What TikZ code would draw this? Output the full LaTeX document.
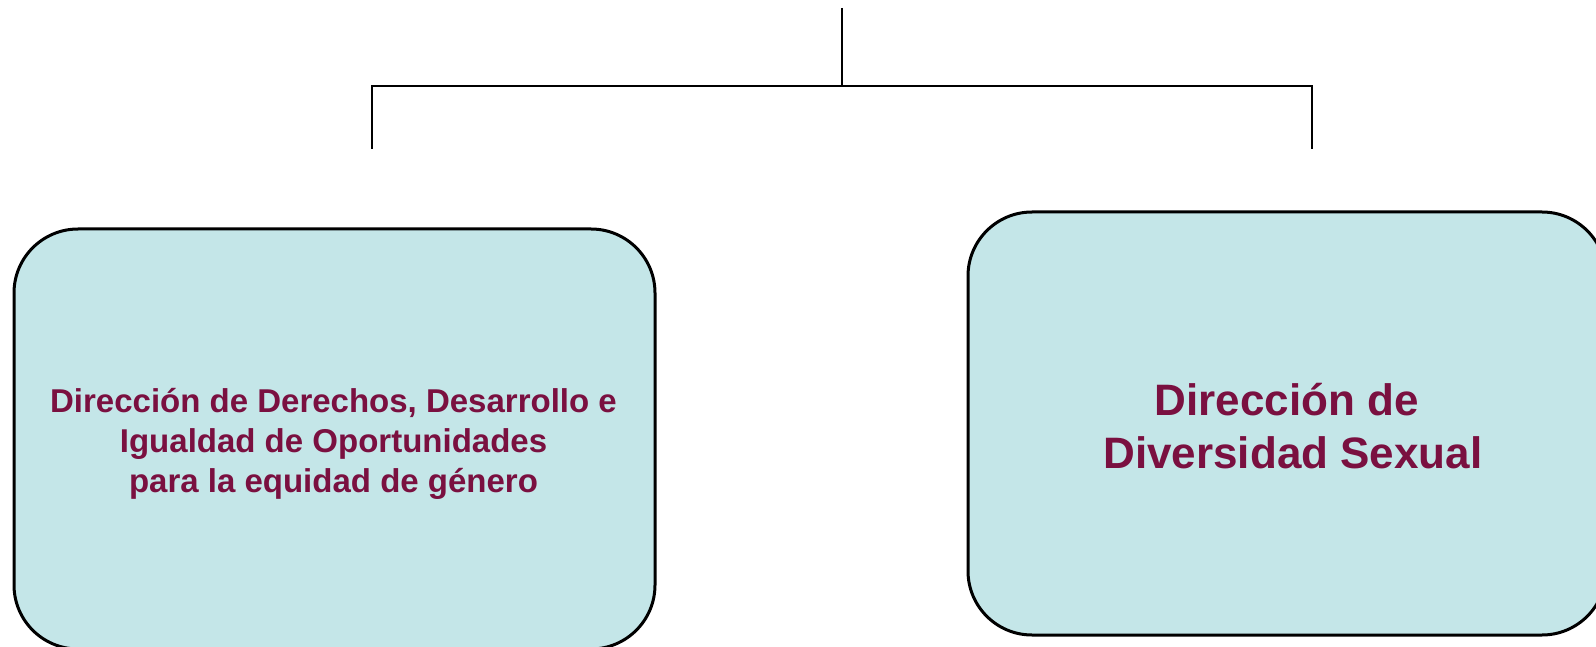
\documentclass[tikz,border=0pt]{standalone}
\usepackage{fontspec}
\setmainfont{Liberation Sans}
\definecolor{boxfill}{HTML}{C4E6E8}
\definecolor{txt}{HTML}{7A1040}
\begin{document}
\begin{tikzpicture}[x=1pt,y=-1pt,
  dirbox/.style={draw=black,line width=3pt,fill=boxfill,rounded corners=64pt},
  conn/.style={draw=black,line width=2.6pt},
  lbl/.style={text=txt,font=\bfseries,align=center,inner sep=0pt}]
\useasboundingbox (0,0) rectangle (1596,647);
\clip (0,0) rectangle (1596,647);
\fill[white] (0,0) rectangle (1596,647);
% connectors
\coordinate (top) at (842,8);
\coordinate (mid) at (842,86);
\coordinate (hl) at (372,86);
\coordinate (hr) at (1312,86);
\coordinate (el) at (372,149);
\coordinate (er) at (1312,149);
\draw[conn] (top) -- (mid);
\draw[conn] (el) -- (hl) -- (hr) -- (er);
% boxes
\path[dirbox] (14,229) rectangle (655,649);
\path[dirbox] (968,212) rectangle (1606,635);
\node[lbl,font=\fontsize{33}{40}\selectfont\bfseries] (a) at (333.5,444)
  {Dirección de Derechos, Desarrollo e\\Igualdad de Oportunidades\\para la equidad de género};
\node[lbl,font=\fontsize{44}{53}\selectfont\bfseries] (b) at (1293,426)
  {Dirección de\hspace*{0.278em}\\Diversidad Sexual};
\end{tikzpicture}
\end{document}
